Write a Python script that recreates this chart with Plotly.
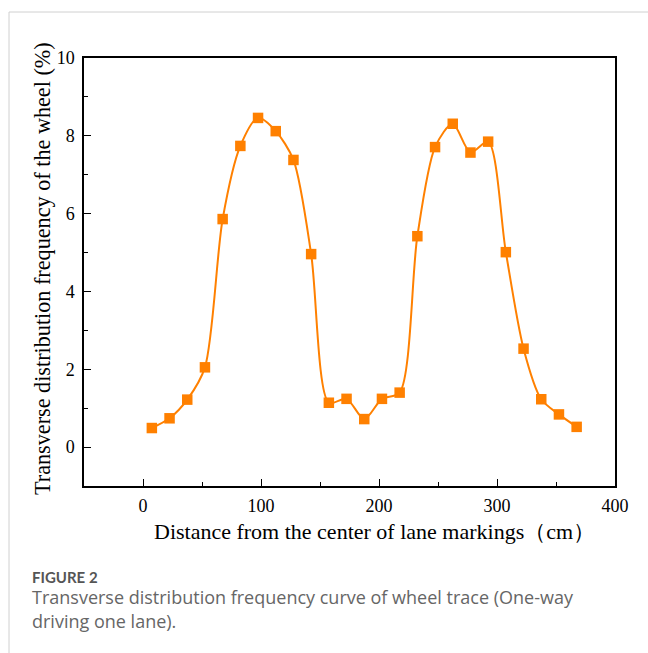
import plotly.graph_objects as go

distance_cm = [7.5, 22.5, 37.5, 52.5, 67.5, 82.5, 97.5, 112.5, 127.5, 142.5,
               157.5, 172.5, 187.5, 202.5, 217.5, 232.5, 247.5, 262.5, 277.5,
               292.5, 307.5, 322.5, 337.5, 352.5, 367.5]
frequency_pct = [0.49, 0.74, 1.22, 2.05, 5.86, 7.74, 8.46, 8.12, 7.38, 4.96,
                 1.14, 1.24, 0.72, 1.24, 1.40, 5.42, 7.71, 8.31, 7.57, 7.85,
                 5.01, 2.53, 1.23, 0.84, 0.52]
x_ticks = [0, 100, 200, 300, 400]
y_ticks = [0, 2, 4, 6, 8, 10]
x_title = "Distance from the center of lane markings（cm）"
y_title = "Transverse distribution frequency of the wheel (%)"

W, H = 648, 653
L, R, T, B = 84, 615, 58, 486

def px(xp):
    return (xp - L) / (R - L)

def py(yp):
    return (B - yp) / (B - T)

ORANGE = "#FF8000"
SERIF = "Liberation Serif, Times New Roman, serif"

fig = go.Figure()
fig.add_trace(go.Scatter(
    x=distance_cm, y=frequency_pct, mode="lines+markers",
    line=dict(color=ORANGE, width=2, shape="spline", smoothing=0.8),
    marker=dict(symbol="square", size=10.5, color=ORANGE),
    showlegend=False, hoverinfo="x+y",
))

axis_common = dict(
    showline=True, linecolor="black", linewidth=1.5, mirror=True,
    ticks="inside", ticklen=7, tickwidth=1.3, tickcolor="black",
    showgrid=False, zeroline=False,
    tickfont=dict(family=SERIF, size=18, color="black"),
)

fig.update_xaxes(
    range=[-50, 400], tickvals=x_ticks, ticklabelstandoff=3,
    minor=dict(ticks="inside", dtick=50, tick0=0, ticklen=4, tickwidth=1.3, tickcolor="black"),
    **axis_common,
)
fig.update_yaxes(
    range=[-1, 10], tickvals=y_ticks, ticklabelstandoff=4,
    minor=dict(ticks="inside", dtick=1, tick0=0, ticklen=4, tickwidth=1.3, tickcolor="black"),
    **axis_common,
)

shapes = [
    dict(type="line", xref="paper", yref="paper", x0=px(9), x1=px(648), y0=py(12), y1=py(12),
         line=dict(color="#d0d0d0", width=1)),
    dict(type="line", xref="paper", yref="paper", x0=px(9), x1=px(9), y0=py(12), y1=py(653),
         line=dict(color="#d0d0d0", width=1)),
]

CAP_FONT = "Open Sans, sans-serif"
annotations = [
    dict(text=x_title, xref="paper", yref="paper", x=px(375), y=py(531),
         xanchor="center", yanchor="middle", showarrow=False,
         font=dict(family=SERIF, size=22, color="black")),
    dict(text=y_title, xref="paper", yref="paper", x=px(42), y=py(269),
         xanchor="center", yanchor="middle", showarrow=False, textangle=-90,
         font=dict(family=SERIF, size=22.2, color="black")),
    dict(text="<b>FIGURE 2</b>", xref="paper", yref="paper", x=px(30), y=py(577),
         xanchor="left", yanchor="middle", showarrow=False,
         font=dict(family="Lato, sans-serif", size=15, color="#555555")),
    dict(text="Transverse distribution frequency curve of wheel trace (One-way",
         xref="paper", yref="paper", x=px(30), y=py(597),
         xanchor="left", yanchor="middle", showarrow=False,
         font=dict(family=CAP_FONT, size=18, color="#666666")),
    dict(text="driving one lane).",
         xref="paper", yref="paper", x=px(30), y=py(621),
         xanchor="left", yanchor="middle", showarrow=False,
         font=dict(family=CAP_FONT, size=18, color="#666666")),
]

fig.update_layout(
    width=W, height=H,
    margin=dict(l=L, r=W - R, t=T, b=H - B),
    paper_bgcolor="white", plot_bgcolor="white",
    shapes=shapes, annotations=annotations,
)

fig.write_html("out.html")
